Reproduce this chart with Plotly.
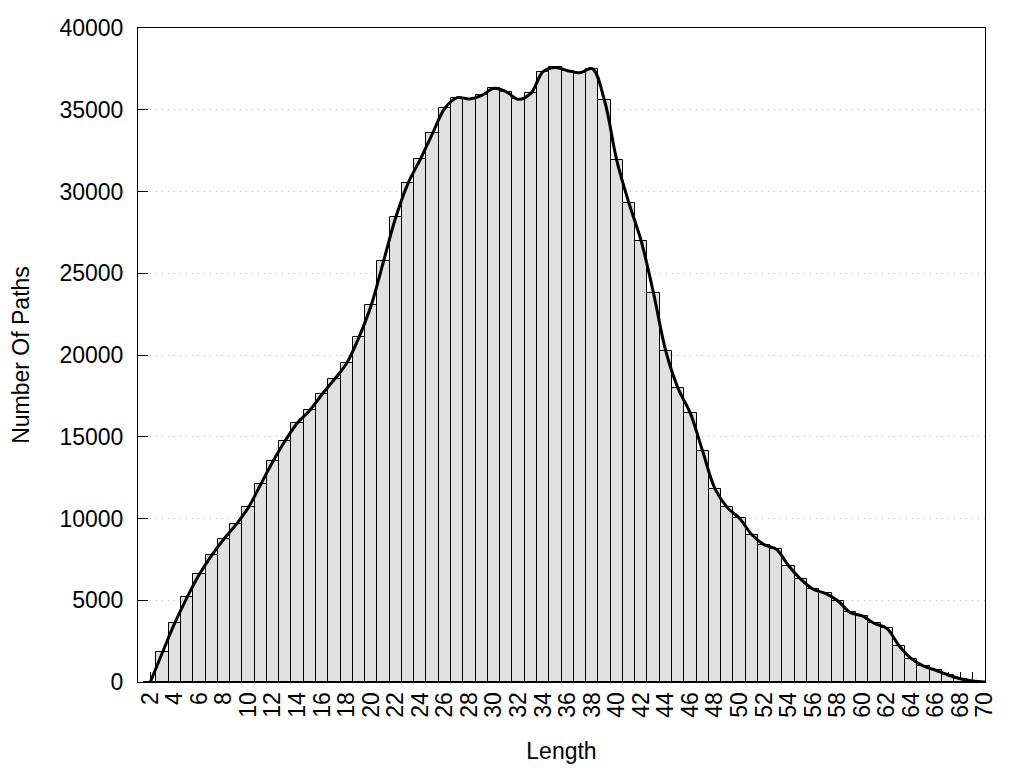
import plotly.graph_objects as go

lengths = list(range(2, 71))
counts = [
    0, 1820, 3610, 5180, 6590, 7750, 8750, 9640, 10680, 12090,
    13500, 14770, 15860, 16620, 17600, 18510, 19490, 21080, 23040, 25730,
    28420, 30500, 31970, 33560, 35090, 35740, 35660, 35880, 36310, 36100,
    35640, 36000, 37330, 37590, 37390, 37270, 37510, 35580, 31910, 29280,
    26950, 23770, 20230, 17960, 16430, 14110, 11830, 10680, 10010, 9020,
    8400, 8120, 7110, 6280, 5670, 5420, 4970, 4260, 4040, 3580,
    3280, 2220, 1430, 970, 720, 430, 200, 60, 0,
]
x_tick_vals = list(range(1, 71))
x_tick_text = [str(v) if v % 2 == 0 else "" for v in x_tick_vals]
y_tick_vals = list(range(0, 40001, 5000))
y_tick_text = [str(v) for v in y_tick_vals]

FONT = "Liberation Sans, Arial, sans-serif"

fig = go.Figure()
fig.add_trace(go.Bar(
    x=lengths, y=counts, width=1.0,
    marker=dict(color="#e0e0e0", line=dict(color="black", width=1)),
    showlegend=False, hoverinfo="x+y",
))
fig.add_trace(go.Scatter(
    x=lengths, y=counts, mode="lines",
    line=dict(color="black", width=3, shape="spline", smoothing=1.0),
    showlegend=False,
))

# page body has an 8px margin, so the figure is sized 1016x760
fig.update_layout(
    width=1016, height=760,
    margin=dict(l=130, r=39, t=20, b=86, autoexpand=False),
    paper_bgcolor="white", plot_bgcolor="white",
    bargap=0,
    font=dict(family=FONT, size=23, color="black"),
)
fig.update_xaxes(
    range=[1, 70],
    tickmode="array", tickvals=x_tick_vals, ticktext=x_tick_text,
    tickangle=-90,
    ticks="inside", ticklen=10, tickcolor="black", tickwidth=1,
    showline=True, linecolor="black", linewidth=1, mirror=True,
    showgrid=False, zeroline=False,
    automargin=False,
    layer="below traces",
    title=dict(text="Length", font=dict(size=23), standoff=26),
    tickfont=dict(size=23),
)
fig.update_yaxes(
    range=[0, 40000],
    tickmode="array", tickvals=y_tick_vals, ticktext=y_tick_text,
    ticks="inside", ticklen=10, tickcolor="black", tickwidth=1,
    showline=True, linecolor="black", linewidth=1, mirror=True,
    showgrid=True, gridcolor="#bbbbbb", griddash="1px,5px", gridwidth=1,
    zeroline=False,
    automargin=False,
    layer="below traces",
    ticklabelstandoff=9,
    title=dict(text="Number Of Paths", font=dict(size=23), standoff=30),
    tickfont=dict(size=23),
)

fig.write_html("out.html")
